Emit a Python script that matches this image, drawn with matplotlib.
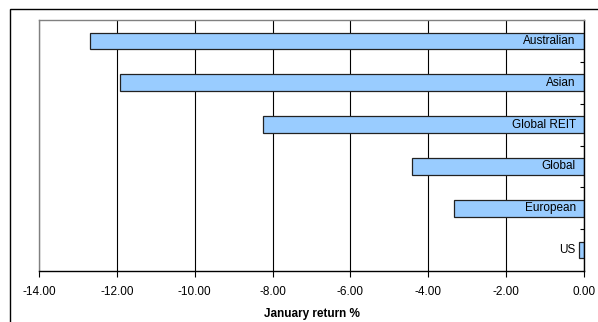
import matplotlib.pyplot as plt
from matplotlib.patches import Rectangle
from matplotlib.ticker import FixedLocator, FormatStrFormatter, NullFormatter

plt.rcParams['font.family'] = ['Liberation Sans', 'DejaVu Sans']

# data, top to bottom as in the chart
regions = ['Australian', 'Asian', 'Global REIT', 'Global', 'European', 'US']
returns = [-12.69, -11.92, -8.25, -4.43, -3.33, -0.14]

fig = plt.figure(figsize=(5.98, 3.22), dpi=100)
W, H = 598, 322

# outer chart frame (left and top edges visible)
fig.add_artist(Rectangle((10 / W, -0.1), 1.2, 1 - 9 / H + 0.1, transform=fig.transFigure,
                         fill=False, edgecolor='black', linewidth=1.0))

ax = fig.add_axes([39 / W, 1 - 271 / H, (584 - 39) / W, (271 - 20) / H])

pos = list(range(len(regions)))
ax.barh(pos, returns, height=0.4, color='#99CCFF', edgecolor='#222222', linewidth=0.9, zorder=3)

ax.set_xlim(-14, 0)
ax.set_ylim(len(regions) - 0.5, -0.5)
ax.set_xticks([-14, -12, -10, -8, -6, -4, -2, 0])
ax.xaxis.set_major_formatter(FormatStrFormatter('%.2f'))
ax.grid(axis='x', color='black', linewidth=0.8, zorder=0)

# category labels on the right, inside the plot, above the bars
ax.yaxis.tick_right()
ax.set_yticks([])
ax.yaxis.set_minor_locator(FixedLocator([p + 0.5 for p in pos[:-1]]))
ax.yaxis.set_minor_formatter(NullFormatter())
ax.tick_params(axis='y', which='minor', direction='in', length=3, width=0.8, right=True, left=False)
for p, name in zip(pos, regions):
    ax.annotate(name, xy=(0, p), xytext=(-6, 0), textcoords='offset points',
                ha='right', va='center', fontsize=8.5, zorder=5)

ax.tick_params(axis='x', direction='out', length=4, width=0.8, pad=7, labelsize=8.5)

for s in ['left', 'top']:
    ax.spines[s].set_color('#808080')
for s in ['right', 'bottom']:
    ax.spines[s].set_color('black')
for s in ax.spines.values():
    s.set_linewidth(1.0)
    s.set_zorder(4)

ax.set_xlabel('January return %', fontsize=8.5, fontweight='bold', labelpad=7)

fig.savefig('out.png', dpi=100)
